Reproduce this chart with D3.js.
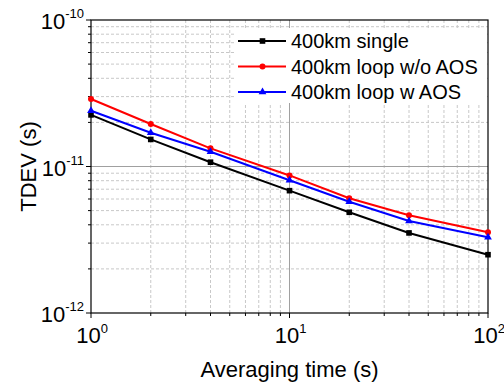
<!DOCTYPE html>
<html>
<head>
<meta charset="utf-8">
<script src="https://cdn.jsdelivr.net/npm/d3@7"></script>
<style>
  body { margin: 0; background: #fff; }
  text { font-family: "Liberation Sans", Arial, sans-serif; }
</style>
</head>
<body>
<div id="wrapper"></div>
<script>
// data
const tau = [1, 2, 4, 10, 20, 40, 100]
const single = [2.25e-11, 1.53e-11, 1.07e-11, 6.84e-12, 4.87e-12, 3.52e-12, 2.50e-12]
const loopNoAos = [2.89e-11, 1.95e-11, 1.33e-11, 8.69e-12, 6.07e-12, 4.65e-12, 3.56e-12]
const loopAos = [2.40e-11, 1.70e-11, 1.26e-11, 8.05e-12, 5.75e-12, 4.25e-12, 3.29e-12]
const seriesNames = ["400km single", "400km loop w/o AOS", "400km loop w AOS"]
const seriesColors = ["#000000", "#ff0000", "#0000ff"]
const seriesMarkers = ["square", "circle", "triangle"]
const xTicks = [1, 10, 100]
const yTicks = [1e-12, 1e-11, 1e-10]

const dimensions = {
  width: 504,
  height: 384,
  margin: { top: 20, right: 16, bottom: 71, left: 91 },
}
dimensions.boundedWidth = dimensions.width - dimensions.margin.left - dimensions.margin.right
dimensions.boundedHeight = dimensions.height - dimensions.margin.top - dimensions.margin.bottom

const wrapper = d3.select("#wrapper")
  .append("svg")
  .attr("width", dimensions.width)
  .attr("height", dimensions.height)

const bounds = wrapper.append("g")
  .attr("transform", `translate(${dimensions.margin.left},${dimensions.margin.top})`)

const xScale = d3.scaleLog()
  .domain([1, 100])
  .range([0, dimensions.boundedWidth])

const yScale = d3.scaleLog()
  .domain([1e-12, 1e-10])
  .range([dimensions.boundedHeight, 0])

// minor positions
const xMinor = []
for (let d = 1; d < 100; d *= 10) for (let k = 2; k <= 9; k++) xMinor.push(d * k)
const yMinor = []
for (let d = 1e-12; d < 1e-10 * 0.99; d *= 10) for (let k = 2; k <= 9; k++) yMinor.push(d * k)

// grid
const grid = bounds.append("g")
grid.selectAll(".xminor").data(xMinor).join("line")
  .attr("x1", d => xScale(d)).attr("x2", d => xScale(d))
  .attr("y1", 0).attr("y2", dimensions.boundedHeight)
  .attr("stroke", "#c8c8c8").attr("stroke-dasharray", "3,2")
grid.selectAll(".yminor").data(yMinor).join("line")
  .attr("y1", d => yScale(d)).attr("y2", d => yScale(d))
  .attr("x1", 0).attr("x2", dimensions.boundedWidth)
  .attr("stroke", "#c8c8c8").attr("stroke-dasharray", "3,2")
grid.append("line")
  .attr("x1", xScale(10)).attr("x2", xScale(10))
  .attr("y1", 0).attr("y2", dimensions.boundedHeight)
  .attr("stroke", "#a0a0a0")
grid.append("line")
  .attr("y1", yScale(1e-11)).attr("y2", yScale(1e-11))
  .attr("x1", 0).attr("x2", dimensions.boundedWidth)
  .attr("stroke", "#a0a0a0")

// legend background masks the grid
const legendX = 147
const legendY = 21
bounds.append("rect")
  .attr("x", legendX - 3).attr("y", 8)
  .attr("width", dimensions.boundedWidth - legendX + 2)
  .attr("height", 75)
  .attr("fill", "#fff")

// frame and outward ticks on bottom and left
const frame = bounds.append("g")
frame.append("rect")
  .attr("width", dimensions.boundedWidth)
  .attr("height", dimensions.boundedHeight)
  .attr("fill", "none")
  .attr("stroke", "#000")
  .attr("stroke-width", 1.2)

const xTickLines = (vals, len) => {
  frame.append("g").selectAll("line").data(vals).join("line")
    .attr("x1", d => xScale(d)).attr("x2", d => xScale(d))
    .attr("y1", dimensions.boundedHeight).attr("y2", dimensions.boundedHeight + len)
    .attr("stroke", "#000")
}
const yTickLines = (vals, len) => {
  frame.append("g").selectAll("line").data(vals).join("line")
    .attr("y1", d => yScale(d)).attr("y2", d => yScale(d))
    .attr("x1", 0).attr("x2", -len)
    .attr("stroke", "#000")
}
xTickLines(xTicks, 5)
xTickLines(xMinor, 3)
yTickLines(yTicks, 5)
yTickLines(yMinor, 3)

// tick labels, 10 with superscript exponent
const expOf = v => Math.round(Math.log10(v))
bounds.append("g").selectAll("text").data(xTicks).join("text")
  .attr("x", d => xScale(d) + 1)
  .attr("y", dimensions.boundedHeight + 30)
  .attr("text-anchor", "middle")
  .attr("font-size", 22)
  .call(t => t.append("tspan").text("10"))
  .call(t => t.append("tspan").attr("dy", -10).attr("font-size", 13).text(d => expOf(d)))

bounds.append("g").selectAll("text").data(yTicks).join("text")
  .attr("x", -7)
  .attr("y", d => yScale(d) + 9)
  .attr("text-anchor", "end")
  .attr("font-size", 22)
  .call(t => t.append("tspan").text("10"))
  .call(t => t.append("tspan").attr("dy", -11).attr("font-size", 13).text(d => expOf(d)))

// axis titles
wrapper.append("text")
  .attr("x", dimensions.margin.left + dimensions.boundedWidth / 2)
  .attr("y", 377)
  .attr("text-anchor", "middle")
  .attr("font-size", 22)
  .text("Averaging time (s)")

wrapper.append("text")
  .attr("transform", `translate(36,${dimensions.margin.top + dimensions.boundedHeight / 2}) rotate(-90)`)
  .attr("text-anchor", "middle")
  .attr("font-size", 22)
  .text("TDEV (s)")

// series
const allSeries = [single, loopNoAos, loopAos]
const line = d3.line()
  .x(d => xScale(d[0]))
  .y(d => yScale(d[1]))

const drawMarker = (g, type, color, x, y) => {
  if (type === "square") {
    g.append("rect").attr("x", x - 2.8).attr("y", y - 2.8)
      .attr("width", 5.6).attr("height", 5.6).attr("fill", color)
  } else if (type === "circle") {
    g.append("circle").attr("cx", x).attr("cy", y).attr("r", 3).attr("fill", color)
  } else {
    g.append("path")
      .attr("d", d3.symbol(d3.symbolTriangle, 26)())
      .attr("transform", `translate(${x},${y})`)
      .attr("fill", color)
  }
}

allSeries.forEach((vals, i) => {
  const pts = tau.map((t, j) => [t, vals[j]])
  const g = bounds.append("g")
  g.append("path")
    .datum(pts)
    .attr("d", line)
    .attr("fill", "none")
    .attr("stroke", seriesColors[i])
    .attr("stroke-width", 2)
  pts.forEach(p => drawMarker(g, seriesMarkers[i], seriesColors[i], xScale(p[0]), yScale(p[1])))
})

// legend
seriesNames.forEach((name, i) => {
  const g = bounds.append("g")
    .attr("transform", `translate(${legendX},${legendY + i * 25.5})`)
  g.append("line")
    .attr("x1", 0).attr("x2", 48)
    .attr("stroke", seriesColors[i]).attr("stroke-width", 2)
  drawMarker(g, seriesMarkers[i], seriesColors[i], 24.5, 0)
  g.append("text")
    .attr("x", 53).attr("y", 7)
    .attr("font-size", 20)
    .text(name)
})
</script>
</body>
</html>
